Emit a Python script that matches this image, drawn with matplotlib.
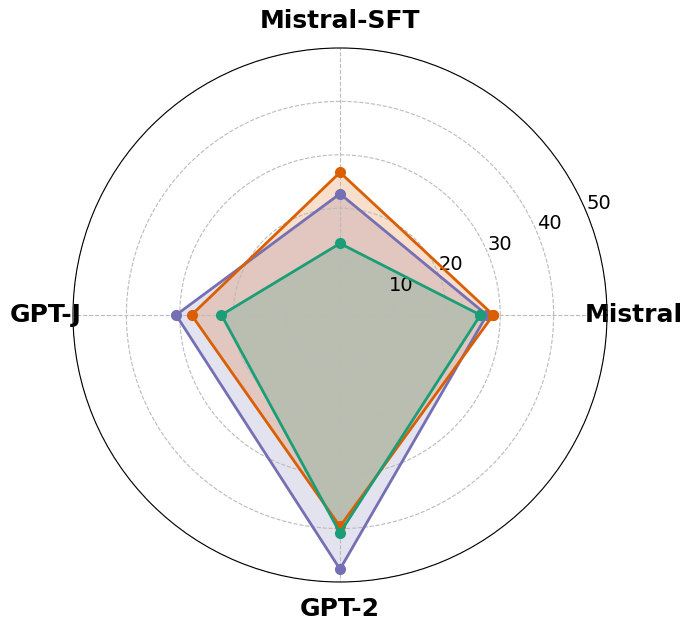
import numpy as np
import matplotlib.pyplot as plt

# Radar chart of four models, three series
categories = ["Mistral", "Mistral-SFT", "GPT-J", "GPT-2"]
series_purple = [27.5, 22.7, 30.7, 47.6]
series_orange = [28.7, 26.7, 27.8, 39.6]
series_green = [26.3, 13.4, 22.2, 40.8]
r_ticks = [10, 20, 30, 40, 50]

colors = ["#7570b3", "#d95f02", "#1b9e77"]
all_series = [series_purple, series_orange, series_green]

angles = np.linspace(0, 2 * np.pi, len(categories), endpoint=False)
closed_angles = np.concatenate([angles, angles[:1]])

fig = plt.figure(figsize=(6.93, 6.32), dpi=100)
ax = fig.add_axes([0.1053, 0.0791, 0.7706, 0.845], polar=True)

for vals, col in zip(all_series, colors):
    v = np.concatenate([vals, vals[:1]])
    ax.plot(closed_angles, v, color=col, linewidth=2, marker="o", markersize=7)
    ax.fill(closed_angles, v, color=col, alpha=0.2)

ax.set_ylim(0, 50)
ax.set_yticks(r_ticks)
ax.set_yticklabels([str(t) for t in r_ticks], fontsize=14)
ax.set_rlabel_position(22.5)
ax.set_xticks(angles)
ax.set_xticklabels(categories, fontsize=18, fontweight="bold")
ax.tick_params(axis="x", pad=9)
ax.grid(True, linestyle="--", color="#bbbbbb", linewidth=0.8)

fig.savefig("out.png", dpi=100)
